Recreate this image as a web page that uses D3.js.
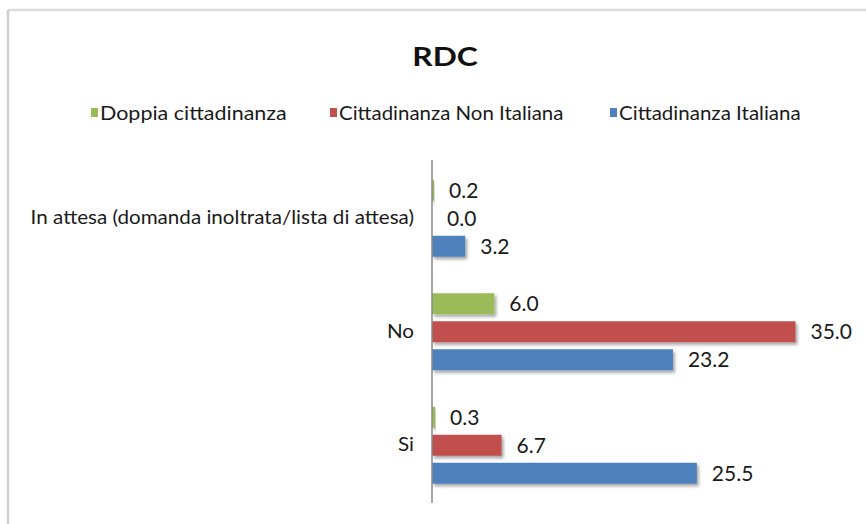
<!DOCTYPE html>
<html><head><meta charset="utf-8">
<script src="https://cdn.jsdelivr.net/npm/d3@7"></script>
<style>body{margin:0;background:#fff}svg{display:block}</style>
</head><body><svg id="c" width="866" height="524"></svg>
<script>
const categories = ["In attesa (domanda inoltrata/lista di attesa)", "No", "Si"];
const seriesNames = ["Doppia cittadinanza", "Cittadinanza Non Italiana", "Cittadinanza Italiana"];
const doppia = [0.2, 6.0, 0.3];
const nonItaliana = [0.0, 35.0, 6.7];
const italiana = [3.2, 23.2, 25.5];
const colors = ["#9BBB59", "#C0504D", "#4F81BD"];
const title = "RDC";

const series = [doppia, nonItaliana, italiana];
const svg = d3.select("#c");
const font = "Lato, 'Open Sans', sans-serif";

function stretch(sel, k) {
  sel.each(function(){
    const w = this.getComputedTextLength();
    d3.select(this).attr("textLength", w*k).attr("lengthAdjust","spacingAndGlyphs");
  });
}

const defs = svg.append("defs");
const f = defs.append("filter").attr("id","sh").attr("x","-10%").attr("y","-30%").attr("width","130%").attr("height","180%");
f.append("feDropShadow").attr("dx",2).attr("dy",2.5).attr("stdDeviation",1.5).attr("flood-color","#000").attr("flood-opacity",0.35);

svg.append("line").attr("x1",8).attr("x2",866).attr("y1",10).attr("y2",10).attr("stroke","#dcdcdc").attr("stroke-width",2.5);
svg.append("line").attr("x1",8).attr("x2",8).attr("y1",10).attr("y2",524).attr("stroke","#d0d0d0").attr("stroke-width",2.5);

const t = svg.append("text").attr("x",445).attr("y",66).attr("text-anchor","middle")
  .attr("font-family",font).attr("font-weight","bold").attr("font-size",26).attr("fill","#111").text(title);
stretch(t, 1.22);

const legendX = [91, 330, 610];
const legendStretch = [1.13, 1.075, 1.08];
seriesNames.forEach((n,i)=>{
  const g = svg.append("g").attr("transform",`translate(${legendX[i]},113)`);
  g.append("rect").attr("x",0).attr("y",-5).attr("width",7).attr("height",9).attr("fill",colors[i]);
  const tx = g.append("text").attr("x",9).attr("y",7).attr("font-family",font).attr("font-size",19).attr("fill","#1a1a1a").text(n);
  stretch(tx, legendStretch[i]);
});

const x = d3.scaleLinear().domain([0,35]).range([432, 795.5]);
const y0 = d3.scaleBand().domain(categories).range([161.5, 502]);
const y1 = d3.scaleBand().domain(d3.range(3)).range([-42, 42]).paddingInner(0.25).paddingOuter(0.125);

categories.forEach((c,ci)=>{
  const cy = y0(c) + y0.bandwidth()/2;
  series.forEach((s,si)=>{
    const v = s[ci];
    const by = cy + y1(si);
    if (v > 0) {
      svg.append("rect").attr("x",x(0)).attr("y",by).attr("width",x(v)-x(0)).attr("height",y1.bandwidth())
        .attr("fill",colors[si]).attr("filter","url(#sh)");
    }
    svg.append("text").attr("x",x(v)+15).attr("y",by+y1.bandwidth()/2+7.5)
      .attr("font-family",font).attr("font-size",21).attr("fill","#1a1a1a").text(v.toFixed(1));
  });
  const lt = svg.append("text").attr("x",414).attr("y",cy+6).attr("text-anchor","end")
    .attr("font-family",font).attr("font-size",19).attr("fill","#1a1a1a").text(c);
  stretch(lt, 1.085);
});

svg.append("line").attr("x1",x(0)).attr("x2",x(0)).attr("y1",160).attr("y2",503).attr("stroke","#888").attr("stroke-width",1.5);
</script></body></html>
